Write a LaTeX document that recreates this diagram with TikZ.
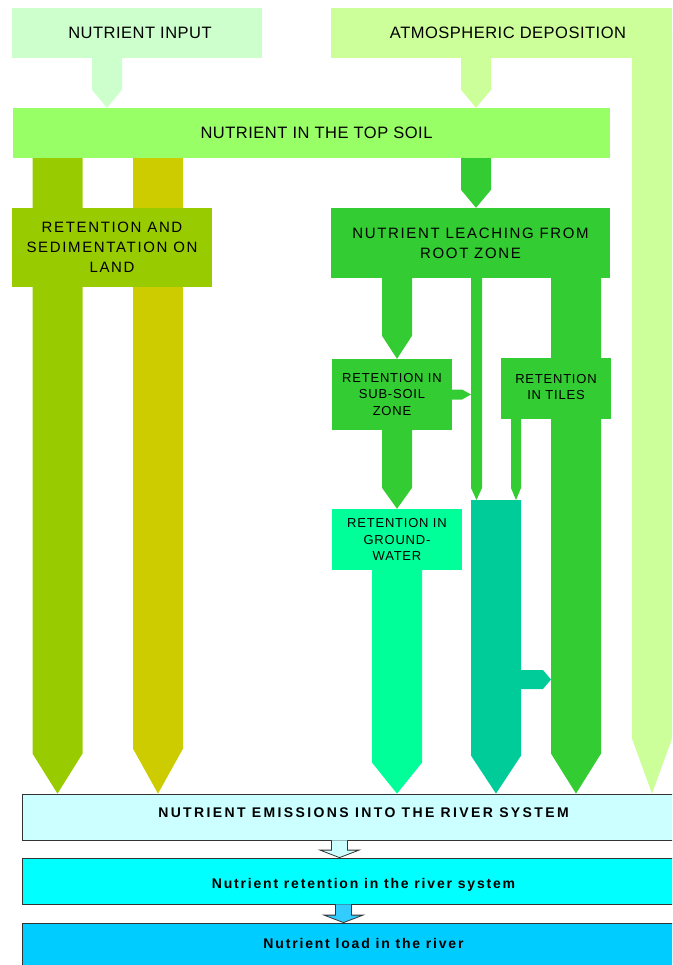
\documentclass[tikz,border=0pt]{standalone}
\usepackage{fontspec}
\setmainfont{Liberation Sans}
\usetikzlibrary{calc, positioning, backgrounds}

\definecolor{inputgreen}{HTML}{CCFFCC}
\definecolor{atmgreen}{HTML}{CCFF99}
\definecolor{soilgreen}{HTML}{99FF66}
\definecolor{landgreen}{HTML}{99CC00}
\definecolor{landyellow}{HTML}{CCCC00}
\definecolor{leachgreen}{HTML}{33CC33}
\definecolor{groundgreen}{HTML}{00FF99}
\definecolor{tealgreen}{HTML}{00CC99}
\definecolor{emiscyan}{HTML}{CCFFFF}
\definecolor{retcyan}{HTML}{00FFFF}
\definecolor{loadblue}{HTML}{00CCFF}
\definecolor{arrowblue}{HTML}{33CCFF}

% flat bar with a pointed end: colour, width, head length, start, tip
\newcommand{\downbar}[5]{%
  \fill[#1] ($(#4)+(-#2/2,0)$) -- ($(#5)+(-#2/2,-#3)$) -- (#5)
    -- ($(#5)+(#2/2,-#3)$) -- ($(#4)+(#2/2,0)$) -- cycle;}
\newcommand{\rightbar}[5]{%
  \fill[#1] ($(#4)+(0,-#2/2)$) -- ($(#5)+(-#3,-#2/2)$) -- (#5)
    -- ($(#5)+(-#3,#2/2)$) -- ($(#4)+(0,#2/2)$) -- cycle;}
% outlined arrow between the river boxes: fill, start, tip
\newcommand{\riverarrow}[3]{%
  \filldraw[fill=#1, draw=black!80, line width=0.8pt] ($(#2)+(-8,0)$) -- ($(#3)+(-8,-7.5)$)
    -- ($(#3)+(-19.5,-7.5)$) -- (#3) -- ($(#3)+(19.5,-7.5)$) -- ($(#3)+(8,-7.5)$) -- ($(#2)+(8,0)$);}

\begin{document}
\begin{tikzpicture}[x=1pt, y=-1pt,
    box/.style={rectangle, inner sep=0pt, align=center, text=black},
    biglabel/.style={box, font=\fontsize{16.5}{20}\selectfont\addfontfeatures{LetterSpace=3}},
    midlabel/.style={box, font=\fontsize{15}{20}\selectfont\addfontfeatures{LetterSpace=11}},
    smalllabel/.style={box, font=\fontsize{13}{16.5}\selectfont\addfontfeatures{LetterSpace=6}},
    riverbox/.style={box, draw=black!80, line width=0.8pt, minimum width=651, minimum height=46,
      font=\bfseries\fontsize{14}{17}\selectfont\addfontfeatures{LetterSpace=13}}]

            \useasboundingbox (0,0) rectangle (672,965);
            \clip (0,0) rectangle (672,965);

            % column positions
            \coordinate (xInp) at (107,0);
            \coordinate (xAtm) at (476,0);
            \coordinate (xAtmCol) at (652,0);
            \coordinate (xLand) at (57.5,0);
            \coordinate (xYel) at (158,0);
            \coordinate (xSub) at (397,0);
            \coordinate (xThin) at (476.5,0);
            \coordinate (xThinL) at (471,0);
            \coordinate (xTile) at (516,0);
            \coordinate (xGreen) at (576,0);
            \coordinate (xTeal) at (496,0);
            \coordinate (xHollow) at (339.5,0);
            \coordinate (xBlue) at (343.5,0);
            \coordinate (tealtop) at (496,500);
            \coordinate (tealside) at (496,679.5);
            \coordinate (greenside) at (551,679.5);

            \node[biglabel, fill=inputgreen, minimum width=250, minimum height=50] (inp) at (137,33) {\hspace*{6pt}NUTRIENT INPUT};
            \node[biglabel, fill=atmgreen, minimum width=341, minimum height=50] (atm) at (501.5,33) {\hspace*{13pt}ATMOSPHERIC DEPOSITION};
            \node[biglabel, fill=soilgreen, minimum width=597, minimum height=50] (topsoil) at (311.5,133) {\hspace*{10pt}NUTRIENT IN THE TOP SOIL};
            \node[midlabel, fill=landgreen, minimum width=200, minimum height=79] (retland) at (112,247.5) {RETENTION AND\\SEDIMENTATION ON\\LAND};
            \node[midlabel, fill=leachgreen, minimum width=279, minimum height=70] (leach) at (470.5,243) {NUTRIENT LEACHING FROM\\ROOT ZONE};
            \node[smalllabel, fill=leachgreen, minimum width=120, minimum height=71] (subsoil) at (392,394.5) {RETENTION IN\\SUB-SOIL\\ZONE};
            \node[smalllabel, fill=leachgreen, minimum width=110, minimum height=61, text depth=3pt] (tiles) at (556,388.5) {RETENTION\\IN TILES};
            \node[smalllabel, fill=groundgreen, minimum width=130, minimum height=61] (ground) at (397,539.5) {RETENTION IN\\GROUND-\\WATER};
            \node[riverbox, fill=emiscyan, text height=10pt, text depth=8.6pt,
              font=\bfseries\fontsize{14}{17}\selectfont\addfontfeatures{LetterSpace=17}] (emis) at (347.5,817) {\hspace*{32pt}NUTRIENT EMISSIONS INTO THE RIVER SYSTEM};
            \node[riverbox, fill=retcyan, text height=17pt, text depth=3pt] (riverret) at (347.5,881) {\hspace*{32pt}Nutrient retention in the river system};
            \node[riverbox, fill=loadblue, minimum height=42, text height=11pt, text depth=3pt] (load) at (347.5,944) {\hspace*{32pt}Nutrient load in the river};

            % Connections: bars behind the boxes
            \begin{pgfonlayer}{background}
            \downbar{inputgreen}{30}{18}{inp.center -| xInp}{topsoil.north -| xInp}
            \downbar{atmgreen}{30}{18}{atm.center -| xAtm}{topsoil.north -| xAtm}
            \downbar{atmgreen}{40}{55}{atm.center -| xAtmCol}{emis.north -| xAtmCol}
            \downbar{landgreen}{50}{40}{topsoil.center -| xLand}{emis.north -| xLand}
            \downbar{landyellow}{50}{45}{topsoil.center -| xYel}{emis.north -| xYel}
            \downbar{leachgreen}{30}{18}{topsoil.center -| xAtm}{leach.north -| xAtm}
            \downbar{leachgreen}{30}{23}{leach.center -| xSub}{subsoil.north -| xSub}
            \downbar{leachgreen}{11}{12}{leach.center -| xThin}{tealtop -| xThin}
            \downbar{leachgreen}{50}{40}{leach.center -| xGreen}{emis.north -| xGreen}
            \downbar{leachgreen}{10}{12}{tiles.center -| xTile}{tealtop -| xTile}
            \downbar{leachgreen}{30}{21}{subsoil.center -| xSub}{ground.north -| xSub}
            \downbar{groundgreen}{50}{31}{ground.center -| xSub}{emis.north -| xSub}
            \downbar{tealgreen}{50}{38}{tealtop}{emis.north -| xTeal}
            \rightbar{leachgreen}{10}{9}{subsoil.center}{subsoil.center -| xThinL}
            \rightbar{tealgreen}{19}{8}{tealside}{greenside}
            \end{pgfonlayer}

            \riverarrow{emiscyan}{emis.south -| xHollow}{riverret.north -| xHollow}
            \riverarrow{arrowblue}{riverret.south -| xBlue}{load.north -| xBlue}

        \end{tikzpicture}
\end{document}
